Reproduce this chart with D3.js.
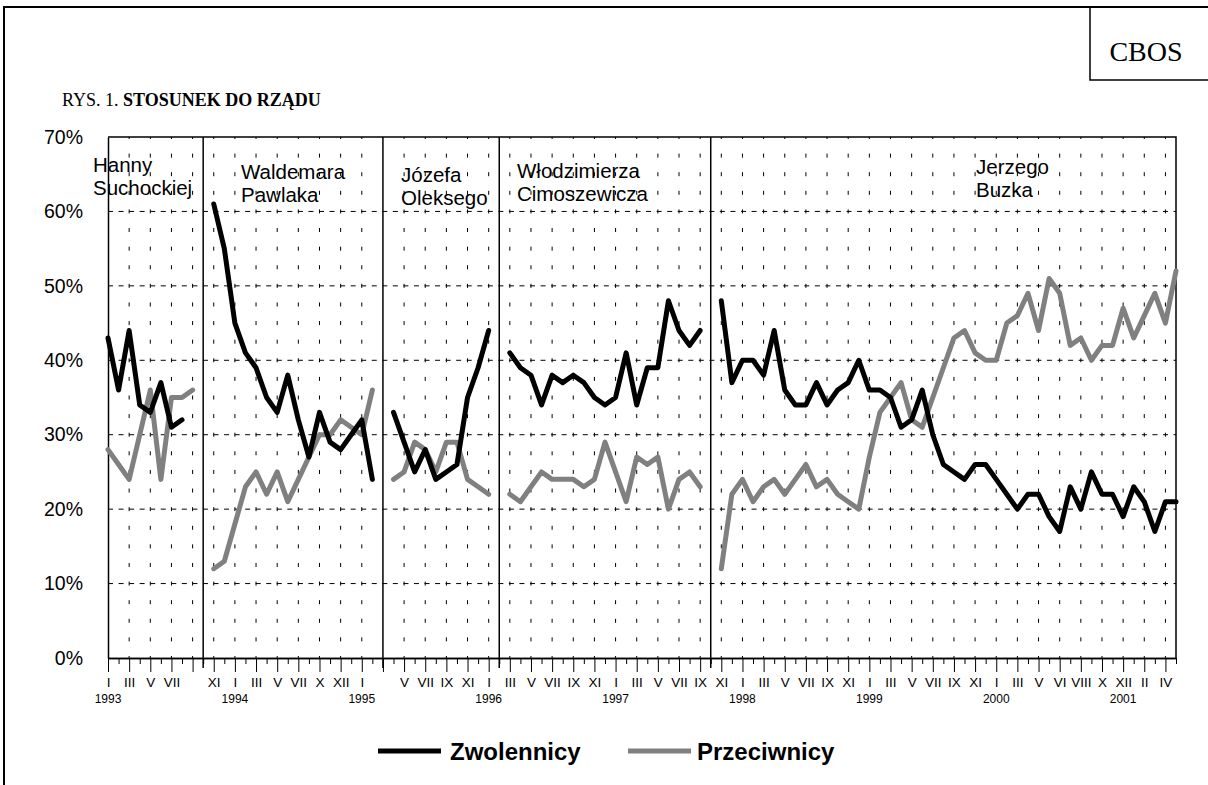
<!DOCTYPE html>
<html>
<head>
<meta charset="utf-8">
<script src="https://cdn.jsdelivr.net/npm/d3@7"></script>
<style>
  body { margin: 0; background: #fff; }
  svg { display: block; }
  text { font-family: "Liberation Sans", Arial, sans-serif; fill: #000; }
</style>
</head>
<body>
<svg id="chart" width="1208" height="785"></svg>
<script>
// month labels shown under every second survey
const monthLabels = [
  "I", "III", "V", "VII", "", "XI", "I", "III", "V", "VII", "X", "XII", "I",
  "", "V", "VII", "IX", "XI", "I", "III", "V", "VII", "IX", "XI", "I", "III",
  "V", "VII", "IX", "XI", "I", "III", "V", "VII", "IX", "XI", "I", "III", "V",
  "VII", "IX", "XI", "I", "III", "V", "VI", "VIII", "X", "XII", "II", "IV"
];
const yearLabels = ["1993", "1994", "1995", "1996", "1997", "1998", "1999", "2000", "2001"];

// % supporting the government (null = no survey / change of government)
const zwolennicy = [
  43, 36, 44, 34, 33, 37, 31, 32, null, null,
  61, 55, 45, 41, 39, 35, 33, 38, 32, 27, 33, 29, 28, 30, 32, 24, null,
  33, 29, 25, 28, 24, 25, 26, 35, 39, 44, null,
  41, 39, 38, 34, 38, 37, 38, 37, 35, 34, 35, 41, 34, 39, 39, 48, 44, 42, 44, null,
  48, 37, 40, 40, 38, 44, 36, 34, 34, 37, 34, 36, 37, 40, 36, 36, 35, 31, 32, 36,
  30, 26, 25, 24, 26, 26, 24, 22, 20, 22, 22, 19, 17, 23, 20, 25, 22, 22, 19, 23,
  21, 17, 21, 21
];
// % opposing the government
const przeciwnicy = [
  28, 26, 24, 30, 36, 24, 35, 35, 36, null,
  12, 13, 18, 23, 25, 22, 25, 21, 24, 27, 30, 30, 32, 31, 30, 36, null,
  24, 25, 29, 28, 25, 29, 29, 24, 23, 22, null,
  22, 21, 23, 25, 24, 24, 24, 23, 24, 29, 25, 21, 27, 26, 27, 20, 24, 25, 23, null,
  12, 22, 24, 21, 23, 24, 22, 24, 26, 23, 24, 22, 21, 20, 27, 33, 35, 37, 32, 31,
  35, 39, 43, 44, 41, 40, 40, 45, 46, 49, 44, 51, 49, 42, 43, 40, 42, 42, 47, 43,
  46, 49, 45, 52
];

const governments = [
  ["Hanny", "Suchockiej"],
  ["Waldemara", "Pawlaka"],
  ["Józefa", "Oleksego"],
  ["Włodzimierza", "Cimoszewicza"],
  ["Jerzego", "Buzka"]
];
// survey slots where the government changed
const govBreaks = [9, 26, 37, 57];

const seriesNames = ["Zwolennicy", "Przeciwnicy"];
const seriesColors = ["#000000", "#808080"];

const svg = d3.select("#chart");
const plotLeft = 108, plotRight = 1176, plotTop = 137, plotBottom = 658;

const x = d3.scalePoint()
  .domain(d3.range(zwolennicy.length))
  .range([plotLeft, plotRight]);

const y = d3.scaleLinear()
  .domain([0, 70])
  .range([plotBottom, plotTop]);

// page frame + CBOS box
svg.append("path")
  .attr("d", "M4,785V7H1208")
  .attr("fill", "none")
  .attr("stroke", "#000")
  .attr("stroke-width", 2);
svg.append("path")
  .attr("d", "M1090,7V80H1208")
  .attr("fill", "none")
  .attr("stroke", "#000")
  .attr("stroke-width", 1.5);
svg.append("text")
  .attr("x", 1146)
  .attr("y", 61)
  .attr("text-anchor", "middle")
  .style("font-family", "'Liberation Serif', 'Times New Roman', serif")
  .style("font-size", "28px")
  .text("CBOS");

const title = svg.append("text")
  .attr("x", 62)
  .attr("y", 106)
  .style("font-family", "'Liberation Serif', 'Times New Roman', serif")
  .style("font-size", "18px");
title.append("tspan").text("RYS. 1. ");
title.append("tspan").attr("font-weight", "bold").text("STOSUNEK DO RZĄDU");

// grid
const grid = svg.append("g");
grid.selectAll(".hgrid")
  .data(d3.range(10, 70, 10))
  .join("line")
  .attr("x1", plotLeft)
  .attr("x2", plotRight)
  .attr("y1", d => y(d))
  .attr("y2", d => y(d))
  .attr("stroke", "#000")
  .attr("stroke-width", 1)
  .attr("stroke-dasharray", "5,5.55");

const step = y(0) - y(2.5);
grid.selectAll(".vgrid")
  .data(x.domain().filter(i => i % 2 === 0 && i > 0 && !govBreaks.includes(i)))
  .join("line")
  .attr("x1", d => x(d))
  .attr("x2", d => x(d))
  .attr("y1", plotBottom)
  .attr("y2", plotTop)
  .attr("stroke", "#000")
  .attr("stroke-width", 1)
  .attr("stroke-dasharray", `4,${step - 4}`)
  .attr("stroke-dashoffset", 2);

// plot frame (top + right)
svg.append("path")
  .attr("d", `M${plotLeft},${plotTop}H${plotRight}V${plotBottom}`)
  .attr("fill", "none")
  .attr("stroke", "#000")
  .attr("stroke-width", 1.5);

// axes
const xMinor = svg.append("g")
  .attr("transform", `translate(0,${plotBottom})`)
  .call(d3.axisBottom(x)
    .tickValues(x.domain().filter(i => i % 2 === 1))
    .tickSize(6)
    .tickSizeOuter(0)
    .tickFormat(""));

const xMajor = svg.append("g")
  .attr("transform", `translate(0,${plotBottom})`)
  .call(d3.axisBottom(x)
    .tickValues(x.domain().filter(i => i % 2 === 0))
    .tickSize(14)
    .tickSizeOuter(0)
    .tickPadding(5)
    .tickFormat(i => monthLabels[i / 2]));

[xMinor, xMajor].forEach(ax => {
  ax.select(".domain").attr("stroke-width", 1.5);
  ax.selectAll(".tick line").attr("stroke", "#000");
  ax.selectAll("text")
    .style("font-family", "'Liberation Sans', Arial, sans-serif")
    .style("font-size", "13.5px")
    .attr("fill", "#000");
});

svg.selectAll(".year")
  .data(yearLabels)
  .join("text")
  .attr("class", "year")
  .attr("x", (d, i) => x(i * 12))
  .attr("y", 703)
  .attr("text-anchor", "middle")
  .style("font-size", "12px")
  .text(d => d);

const yAxis = svg.append("g")
  .attr("transform", `translate(${plotLeft},0)`)
  .call(d3.axisLeft(y)
    .tickValues(d3.range(0, 80, 10))
    .tickSize(0)
    .tickPadding(25)
    .tickFormat(d => d + "%"));
yAxis.select(".domain").attr("stroke-width", 1.5);
yAxis.selectAll("text")
  .style("font-family", "'Liberation Sans', Arial, sans-serif")
  .style("font-size", "19.5px")
  .attr("fill", "#000");

// government change lines
svg.selectAll(".break")
  .data(govBreaks)
  .join("line")
  .attr("class", "break")
  .attr("x1", d => x(d))
  .attr("x2", d => x(d))
  .attr("y1", plotTop)
  .attr("y2", plotBottom + 10)
  .attr("stroke", "#000")
  .attr("stroke-width", 1.5);

// government names
const labelPos = [
  { x: 93, y: 172 },
  { x: 241, y: 179 },
  { x: 401, y: 182 },
  { x: 517, y: 178 },
  { x: 976, y: 174 }
];
svg.selectAll(".gov")
  .data(governments)
  .join("text")
  .attr("class", "gov")
  .attr("x", (d, i) => labelPos[i].x)
  .attr("y", (d, i) => labelPos[i].y)
  .style("font-size", "20.5px")
  .each(function (d, i) {
    d3.select(this).selectAll("tspan")
      .data(d)
      .join("tspan")
      .attr("x", labelPos[i].x)
      .attr("dy", (t, j) => (j === 0 ? 0 : 22.5))
      .text(t => t);
  });

// series
const line = d3.line()
  .defined(d => d != null)
  .x((d, i) => x(i))
  .y(d => y(d));

const series = [przeciwnicy, zwolennicy];
const seriesCol = [seriesColors[1], seriesColors[0]];
svg.selectAll(".series")
  .data(series)
  .join("path")
  .attr("class", "series")
  .attr("d", line)
  .attr("fill", "none")
  .attr("stroke", (d, i) => seriesCol[i])
  .attr("stroke-width", 5)
  .attr("stroke-linejoin", "round")
  .attr("stroke-linecap", "round");

// legend
const legendX = [378, 628];
const legend = svg.selectAll(".legend")
  .data(seriesNames)
  .join("g")
  .attr("class", "legend")
  .attr("transform", (d, i) => `translate(${legendX[i]},751)`);
legend.append("line")
  .attr("x1", 0)
  .attr("x2", 63)
  .attr("stroke", (d, i) => seriesColors[i])
  .attr("stroke-width", 5);
legend.append("text")
  .attr("x", (d, i) => (i === 0 ? 72 : 69))
  .attr("y", 9)
  .style("font-size", "24px")
  .style("font-weight", "bold")
  .text(d => d);
</script>
</body>
</html>
